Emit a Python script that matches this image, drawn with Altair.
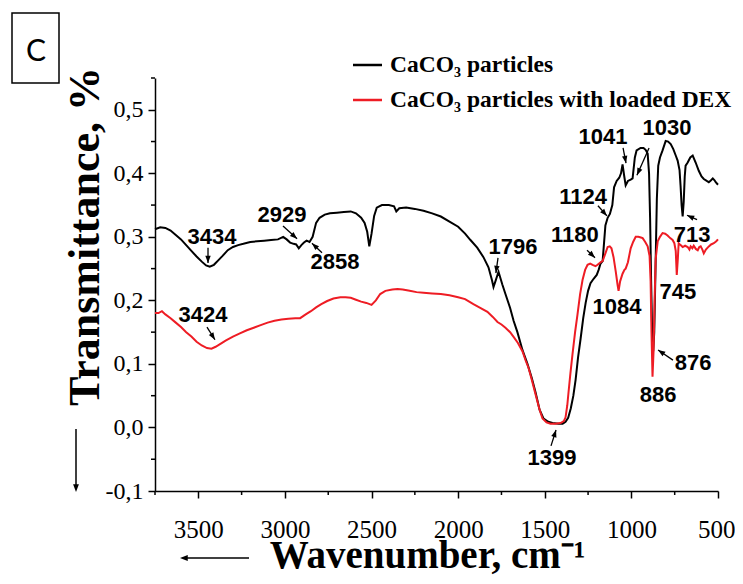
import math
import altair as alt
import pandas as pd

# ---------------- data ----------------
black_wn = [
    3750, 3720, 3690, 3660, 3630, 3600, 3570, 3540, 3510, 3480,
    3455, 3434, 3410, 3385, 3360, 3330, 3300, 3270, 3240, 3200,
    3160, 3120, 3080, 3040, 3010, 2990, 2970, 2950, 2935, 2920,
    2905, 2890, 2875, 2858, 2840, 2820, 2800, 2770, 2740, 2700,
    2660, 2620, 2590, 2560, 2540, 2525, 2513, 2500, 2485, 2470,
    2440, 2400, 2370, 2357, 2340, 2300, 2250, 2200, 2150, 2100,
    2050, 2000, 1960, 1929, 1890, 1854, 1825, 1805, 1796, 1785,
    1767, 1745, 1727, 1700, 1680, 1658, 1629, 1600, 1575, 1553,
    1530, 1507, 1480, 1455, 1420, 1397, 1380, 1365, 1350, 1335,
    1322, 1308, 1293, 1278, 1264, 1250, 1236, 1218, 1200, 1189,
    1178, 1166, 1150, 1137, 1124, 1110, 1100, 1085, 1070, 1060,
    1051, 1041, 1033, 1020, 1004, 993, 980, 970, 947, 930,
    918, 906, 898, 892, 886, 880, 874, 868, 860, 853,
    845, 835, 820, 802, 788, 773, 758, 744, 733, 722,
    716, 710, 704, 698, 692, 687, 675, 660, 646, 629,
    611, 595, 582, 565, 553, 540, 530, 520, 513, 500]
black_t = [
    0.312, 0.315, 0.314, 0.310, 0.303, 0.296, 0.287, 0.278, 0.269, 0.261,
    0.255, 0.253, 0.256, 0.263, 0.270, 0.279, 0.284, 0.287, 0.289, 0.292,
    0.293, 0.294, 0.295, 0.296, 0.300, 0.296, 0.291, 0.289, 0.288, 0.282,
    0.287, 0.291, 0.294, 0.292, 0.300, 0.322, 0.330, 0.335, 0.337, 0.338,
    0.339, 0.340, 0.337, 0.330, 0.322, 0.308, 0.285, 0.305, 0.333, 0.346,
    0.350, 0.350, 0.348, 0.340, 0.345, 0.346, 0.344, 0.341, 0.337, 0.332,
    0.324, 0.316, 0.305, 0.295, 0.283, 0.268, 0.252, 0.232, 0.221, 0.230,
    0.245, 0.225, 0.210, 0.188, 0.168, 0.150, 0.122, 0.100, 0.078, 0.055,
    0.028, 0.014, 0.009, 0.007, 0.006, 0.006, 0.009, 0.015, 0.030, 0.050,
    0.075, 0.110, 0.140, 0.172, 0.196, 0.215, 0.227, 0.234, 0.240, 0.248,
    0.258, 0.262, 0.318, 0.330, 0.336, 0.350, 0.378, 0.388, 0.393, 0.400,
    0.414, 0.395, 0.381, 0.388, 0.390, 0.392, 0.425, 0.436, 0.440, 0.440,
    0.437, 0.431, 0.400, 0.330, 0.230, 0.150, 0.120, 0.150, 0.260, 0.360,
    0.412, 0.425, 0.436, 0.451, 0.450, 0.446, 0.438, 0.428, 0.420, 0.405,
    0.380, 0.350, 0.332, 0.355, 0.395, 0.412, 0.417, 0.425, 0.428, 0.417,
    0.404, 0.395, 0.391, 0.388, 0.386, 0.389, 0.392, 0.389, 0.386, 0.382]

red_wn = [
    3750, 3730, 3710, 3690, 3660, 3630, 3600, 3570, 3540, 3510,
    3480, 3450, 3424, 3400, 3370, 3340, 3300, 3260, 3220, 3180,
    3140, 3100, 3060, 3020, 2980, 2940, 2912, 2880, 2850, 2820,
    2790, 2756, 2720, 2680, 2650, 2620, 2590, 2560, 2530, 2500,
    2475, 2450, 2420, 2380, 2350, 2320, 2280, 2240, 2200, 2150,
    2100, 2050, 2000, 1960, 1912, 1870, 1831, 1800, 1773, 1750,
    1727, 1700, 1681, 1655, 1629, 1610, 1594, 1575, 1553, 1530,
    1513, 1490, 1467, 1440, 1409, 1390, 1380, 1370, 1363, 1352,
    1340, 1325, 1311, 1296, 1282, 1267, 1253, 1238, 1224, 1207,
    1195, 1178, 1166, 1150, 1137, 1125, 1115, 1103, 1090, 1080,
    1074, 1065, 1051, 1040, 1033, 1020, 1004, 990, 975, 960,
    945, 935, 920, 906, 895, 889, 884, 878, 872, 866,
    860, 848, 835, 820, 805, 791, 776, 762, 752, 744,
    738, 732, 727, 716, 704, 690, 675, 665, 658, 648,
    640, 628, 617, 608, 600, 590, 582, 570, 553, 540,
    524, 510, 500]
red_t = [
    0.180, 0.180, 0.183, 0.178, 0.172, 0.165, 0.158, 0.150, 0.143, 0.135,
    0.129, 0.125, 0.124, 0.127, 0.132, 0.137, 0.143, 0.148, 0.153, 0.157,
    0.161, 0.165, 0.168, 0.170, 0.171, 0.172, 0.172, 0.178, 0.183, 0.189,
    0.194, 0.199, 0.203, 0.205, 0.205, 0.204, 0.201, 0.198, 0.196, 0.193,
    0.200, 0.210, 0.215, 0.217, 0.218, 0.217, 0.215, 0.213, 0.212, 0.211,
    0.210, 0.208, 0.205, 0.202, 0.194, 0.188, 0.182, 0.174, 0.166, 0.162,
    0.157, 0.150, 0.143, 0.133, 0.120, 0.105, 0.094, 0.075, 0.052, 0.028,
    0.014, 0.008, 0.006, 0.006, 0.007, 0.010, 0.016, 0.035, 0.055, 0.085,
    0.115, 0.150, 0.178, 0.210, 0.232, 0.248, 0.256, 0.258, 0.256, 0.254,
    0.256, 0.260, 0.262, 0.274, 0.284, 0.285, 0.282, 0.268, 0.245, 0.225,
    0.215, 0.230, 0.242, 0.248, 0.250, 0.260, 0.282, 0.292, 0.300, 0.300,
    0.299, 0.298, 0.292, 0.285, 0.270, 0.230, 0.150, 0.080, 0.120, 0.200,
    0.265, 0.293, 0.300, 0.306, 0.305, 0.302, 0.298, 0.295, 0.290, 0.278,
    0.240, 0.265, 0.290, 0.287, 0.284, 0.286, 0.284, 0.280, 0.285, 0.282,
    0.286, 0.281, 0.279, 0.284, 0.285, 0.280, 0.274, 0.280, 0.285, 0.288,
    0.290, 0.293, 0.296]

series_names = ["CaCO3 particles", "CaCO3 particles with loaded DEX"]
series_colors = ["#000000", "#ee1c24"]

x_ticks = [3500, 3000, 2500, 2000, 1500, 1000, 500]
x_minor = [3750, 3250, 2750, 2250, 1750, 1250, 750]
y_ticks = [-0.1, 0.0, 0.1, 0.2, 0.3, 0.4, 0.5]
y_minor = [-0.05, 0.05, 0.15, 0.25, 0.35, 0.45, 0.55]

peak_labels = ["3434", "2929", "2858", "1796", "1180", "1124", "1041", "1030",
               "713", "745", "1084", "876", "886", "1399", "3424"]
label_wn = [3421, 3017, 2711, 1683, 1326, 1279, 1164, 794,
            650, 731, 1083, 644, 846, 1458, 3473]
label_t = [0.300, 0.334, 0.260, 0.284, 0.303, 0.363, 0.457, 0.471,
           0.303, 0.213, 0.190, 0.102, 0.051, -0.048, 0.177]

arrow_from_wn = [3444, 3011, 2786, 1770, 1256, 1193, 1048, 898, 621, 760, 1464, 3450]
arrow_from_t = [0.283, 0.317, 0.275, 0.267, 0.279, 0.349, 0.440, 0.440, 0.327, 0.106, -0.029, 0.158]
arrow_to_wn = [3444, 2930, 2844, 1782, 1210, 1141, 1031, 968, 679, 846, 1435, 3404]
arrow_to_t = [0.259, 0.297, 0.290, 0.243, 0.267, 0.333, 0.416, 0.397, 0.334, 0.122, -0.004, 0.138]

# ---------------- layout / style ----------------
W, H = 563, 413
X_DOM = [500, 3750]
Y_DOM = [-0.1, 0.55]
SERIF = "Liberation Serif"
SANS = "Liberation Sans"
HEAD = "M0,0 L-0.75,2 L0.75,2 Z"  # arrow head, tip at origin, pointing up

xs = alt.Scale(domain=X_DOM, reverse=True, nice=False, zero=False)
ys = alt.Scale(domain=Y_DOM, nice=False, zero=False)

rows = []
for name, wns, ts in [(series_names[0], black_wn, black_t), (series_names[1], red_wn, red_t)]:
    assert len(wns) == len(ts)
    for w, t in zip(wns, ts):
        rows.append({"wn": w, "t": t, "series": name})
lines_df = pd.DataFrame(rows)

x_axis = alt.Axis(
    values=x_ticks, format="d", grid=False,
    domainColor="black", domainWidth=1.5, tickColor="black", tickWidth=1.5, tickSize=7,
    labelFont=SERIF, labelFontSize=25, labelColor="black", labelPadding=39,
    labelBaseline="alphabetic", labelFlush=True, labelFlushOffset=17, labelOverlap=False,
    title="Wavenumber, cm⁻¹", titleFont=SERIF, titleFontSize=39, titleFontWeight="bold",
    titleColor="black", titleX=272, titleY=76, titleAlign="center", titleBaseline="alphabetic",
)
y_axis = alt.Axis(
    values=y_ticks, grid=False,
    labelExpr="replace(replace(format(datum.value, '.1f'), '.', ','), '\u2212', '-')",
    domainColor="black", domainWidth=1.5, tickColor="black", tickWidth=1.5, tickSize=7,
    labelFont=SERIF, labelFontSize=24, labelColor="black", labelPadding=5, labelOverlap=False,
    title="Transmittance, %", titleFont=SERIF, titleFontSize=44, titleFontWeight="bold",
    titleColor="black", titleAngle=270, titleX=-57, titleY=158, titleAlign="center",
    titleBaseline="alphabetic",
)


def X(field):
    return alt.X(field, scale=xs, axis=x_axis)


def Y(field):
    return alt.Y(field, scale=ys, axis=y_axis)


lines = alt.Chart(lines_df).mark_line(strokeWidth=2).encode(
    x=X("wn:Q"), y=Y("t:Q"),
    color=alt.Color("series:N", scale=alt.Scale(domain=series_names, range=series_colors), legend=None),
)

xminor = alt.Chart(pd.DataFrame({"wn": x_minor})).mark_rule(color="black", strokeWidth=1.5).encode(
    x=X("wn:Q"), y=alt.value(H), y2=alt.value(H + 4))
yminor = alt.Chart(pd.DataFrame({"t": y_minor})).mark_rule(color="black", strokeWidth=1.5).encode(
    y=Y("t:Q"), x=alt.value(-4), x2=alt.value(0))

# arrows
kx = W / (X_DOM[1] - X_DOM[0])
ky = H / (Y_DOM[1] - Y_DOM[0])
angles = []
for w1, t1, w2, t2 in zip(arrow_from_wn, arrow_from_t, arrow_to_wn, arrow_to_t):
    dx = -(w2 - w1) * kx
    dy = -(t2 - t1) * ky
    angles.append(math.degrees(math.atan2(dx, -dy)) % 360)
arr_df = pd.DataFrame({"wn": arrow_from_wn, "t": arrow_from_t,
                       "w2": arrow_to_wn, "t2": arrow_to_t, "ang": angles})

shafts = alt.Chart(arr_df).mark_rule(color="black", strokeWidth=1.3).encode(
    x=X("wn:Q"), x2="w2:Q", y=Y("t:Q"), y2="t2:Q")
heads = alt.Chart(arr_df).mark_point(shape=HEAD, filled=True, size=52, color="black",
                                     opacity=1, strokeWidth=0).encode(
    x=X("w2:Q"), y=Y("t2:Q"), angle=alt.Angle("ang:Q", scale=None))

lab_df = pd.DataFrame({"label": peak_labels, "wn": label_wn, "t": label_t})
labels = alt.Chart(lab_df).mark_text(font=SANS, fontWeight="bold", fontSize=22, color="black",
                                     align="center", baseline="middle").encode(
    x=X("wn:Q"), y=Y("t:Q"), text="label:N")

# decorations (legend, panel letter, axis arrows)
one = pd.DataFrame({"k": [0]})
leg_lines = [
    alt.Chart(one).mark_rule(color=series_colors[i], strokeWidth=2.5).encode(
        x=alt.value(198), x2=alt.value(227), y=alt.value(yy))
    for i, yy in enumerate([-13, 22])
]
leg_texts = [
    alt.Chart(one).mark_text(font=SERIF, fontWeight="bold", fontSize=23.5, color="black",
                             align="left", baseline="alphabetic").encode(
        x=alt.value(235), y=alt.value(yy), text=alt.value(txt))
    for txt, yy in [("CaCO₃ particles", -6), ("CaCO₃ particles with loaded DEX", 29)]
]
cbox = alt.Chart(one).mark_rect(fill="white", fillOpacity=0, stroke="black", strokeWidth=1.5).encode(
    x=alt.value(-143), x2=alt.value(-96), y=alt.value(-65), y2=alt.value(5))
ctext = alt.Chart(one).mark_text(font="Lato", fontSize=30, color="black", align="center",
                                 baseline="middle").encode(
    x=alt.value(-119), y=alt.value(-26), text=alt.value("C"))

yarrow = alt.Chart(one).mark_rule(color="black", strokeWidth=1.5).encode(
    x=alt.value(-79), y=alt.value(351), y2=alt.value(408))
yarrow_head = alt.Chart(one).mark_point(shape=HEAD, filled=True, size=60, color="black",
                                        opacity=1, strokeWidth=0).encode(
    x=alt.value(-79), y=alt.value(414), angle=alt.value(180))
xarrow = alt.Chart(one).mark_rule(color="black", strokeWidth=1.5).encode(
    x=alt.value(31), x2=alt.value(94), y=alt.value(480))
xarrow_head = alt.Chart(one).mark_point(shape=HEAD, filled=True, size=60, color="black",
                                        opacity=1, strokeWidth=0).encode(
    x=alt.value(25), y=alt.value(480), angle=alt.value(270))

chart = alt.layer(
    lines, cbox, ctext, xminor, yminor, shafts, heads, labels,
    *leg_lines, *leg_texts, yarrow, yarrow_head, xarrow, xarrow_head,
).properties(
    width=W, height=H,
    padding={"left": 147, "top": 70, "right": 17, "bottom": 85},
    autosize=alt.AutoSizeParams(type="none"),
    background="white",
).configure_view(stroke=None)

chart.save("out.html", embed_options={"renderer": "svg", "actions": False})
